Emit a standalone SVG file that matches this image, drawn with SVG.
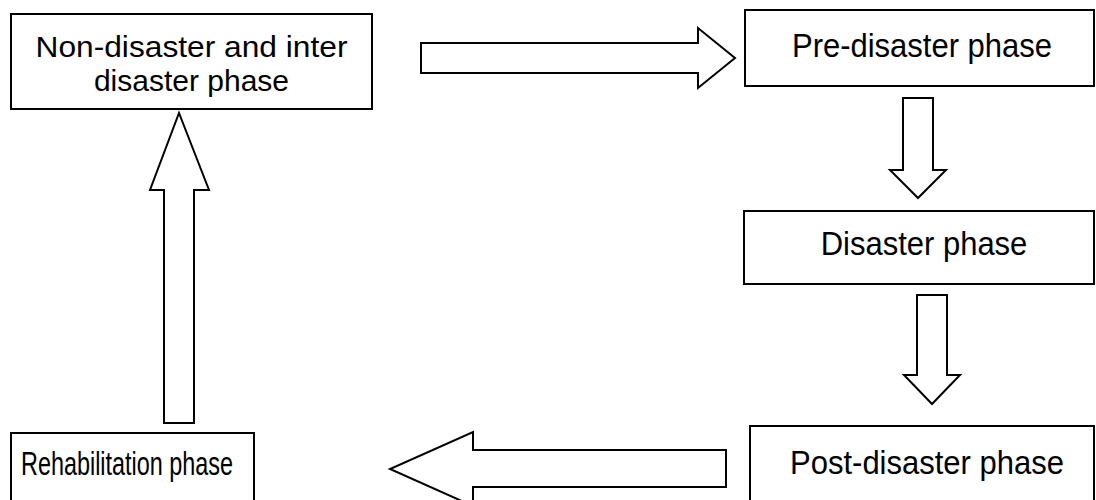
<svg xmlns="http://www.w3.org/2000/svg" width="1096" height="500" viewBox="0 0 1096 500">
<style>
.box{fill:#fff;stroke:#000;stroke-width:2}
.arr{fill:#fff;stroke:#000;stroke-width:2;stroke-linejoin:miter}
.t{font-family:"Liberation Sans",Arial,sans-serif;font-size:31px;fill:#000;text-anchor:middle}
.t2{font-family:"Liberation Sans",Arial,sans-serif;font-size:30px;fill:#000;text-anchor:middle}
</style>
<rect width="1096" height="500" fill="#fff"/>
<g id="connectors">
<polygon class="arr" points="421,43 698,43 698,28 735,58 698,88 698,73 421,73"/>
<polygon class="arr" points="903,98 933,98 933,170 946,170 918,198 890,170 903,170"/>
<polygon class="arr" points="917,295 947,295 947,375 960,375 932,404 904,375 917,375"/>
<polygon class="arr" points="726,450 726,487 473,487 473,506 390,469 473,432 473,450"/>
<polygon class="arr" points="164,423 164,190 150,190 179,113 209,190 194,190 194,423"/>
</g>
<g id="node-non-disaster">
<rect class="box" x="11" y="14" width="361" height="95"/>
<text class="t2" x="191.5" y="57" textLength="312" lengthAdjust="spacingAndGlyphs">Non-disaster and inter</text>
<text class="t2" x="191.5" y="91">disaster phase</text>
</g>
<g id="node-pre-disaster">
<rect class="box" x="745" y="10" width="349" height="76"/>
<text class="t" transform="translate(922 57) scale(1 1.08)">Pre-disaster phase</text>
</g>
<g id="node-disaster">
<rect class="box" x="744" y="211" width="350" height="73"/>
<text class="t" transform="translate(924 255) scale(1 1.08)">Disaster phase</text>
</g>
<g id="node-post-disaster">
<rect class="box" x="750" y="426" width="344" height="90"/>
<text class="t" transform="translate(927 474) scale(1 1.08)">Post-disaster phase</text>
</g>
<g id="node-rehabilitation">
<rect class="box" x="11" y="433" width="243" height="80"/>
<text class="t" transform="translate(127 475) scale(1 1.08)" textLength="212" lengthAdjust="spacingAndGlyphs">Rehabilitation phase</text>
</g>
</svg>
